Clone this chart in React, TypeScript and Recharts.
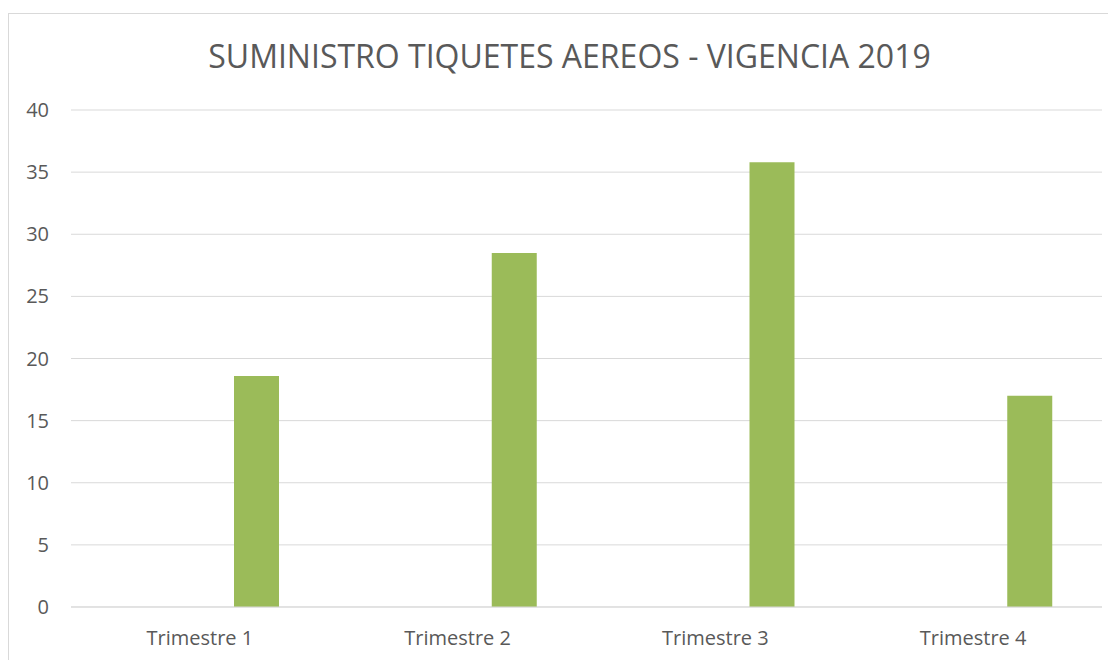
import { BarChart, Bar, XAxis, YAxis, CartesianGrid } from 'recharts';

const trimestres = ['Trimestre 1', 'Trimestre 2', 'Trimestre 3', 'Trimestre 4'];
// first series in the source sheet is empty, it only shifts the green bar to the right
const serie1: (number | null)[] = [null, null, null, null];
const tiquetes = [18.6, 28.5, 35.8, 17.0];
const yTicks = [0, 5, 10, 15, 20, 25, 30, 35, 40];

const data = trimestres.map((t, i) => ({ name: t, s1: serie1[i], v: tiquetes[i] }));

const font = '"Open Sans", sans-serif';
const gray = '#595959';

export default function App() {
  return (
    <div style={{ position: 'relative', width: 1108, paddingTop: 5, fontFamily: font }}>
      <div style={{
        position: 'absolute', top: 32, left: 0, width: 1093, paddingLeft: 15,
        textAlign: 'center', fontSize: 32, lineHeight: '32px', color: gray,
      }}>
        SUMINISTRO TIQUETES AEREOS - VIGENCIA 2019
      </div>
      <div style={{ width: 1107, height: 646, borderTop: '1px solid #d9d9d9', borderLeft: '1px solid #d9d9d9' }}>
        <BarChart width={1107} height={646} data={data} barSize={45} barGap={68}
          margin={{ top: 96, right: 14, left: 0, bottom: 0 }}>
          <CartesianGrid vertical={false} stroke="#d9d9d9" />
          <XAxis dataKey="name" height={53} tickLine={false} tickSize={0} tickMargin={24}
            axisLine={{ stroke: '#d9d9d9' }} tick={{ fill: gray, fontSize: 20, fontFamily: font }} />
          <YAxis width={62} domain={[0, 40]} ticks={yTicks} axisLine={false} tickLine={false}
            tickSize={0} tickMargin={22} tick={{ fill: gray, fontSize: 20, fontFamily: font }} />
          <Bar dataKey="s1" fill="#4f81bd" isAnimationActive={false} />
          <Bar dataKey="v" fill="#9bbb59" isAnimationActive={false} />
        </BarChart>
      </div>
    </div>
  );
}
